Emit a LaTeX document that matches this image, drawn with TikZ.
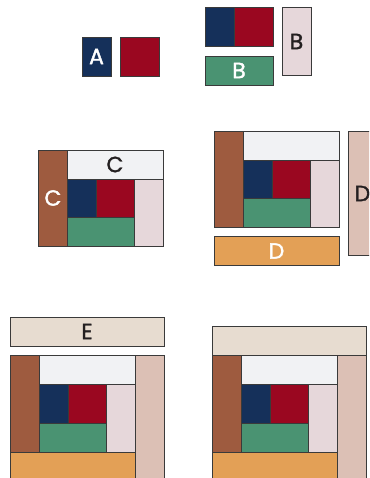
\documentclass[tikz,border=0pt]{standalone}
\usepackage{fontspec}
\newfontfamily\blockfont[FakeBold=1.6]{Poppins}

\begin{document}
\begin{tikzpicture}[
    x=1pt, y=-1pt,
    piece/.style={
        draw=edgegray,
        line width=0.8pt
    },
    letter/.style={
        font=\blockfont\fontsize{22}{22}\selectfont,
        inner sep=0pt
    },
    lightletter/.style={
        letter,
        text=white
    },
    darkletter/.style={
        letter,
        text=inkblack
    }
]

% Define colors
\definecolor{edgegray}{RGB}{58,58,58}
\definecolor{inkblack}{RGB}{35,31,32}
\definecolor{navy}{RGB}{21,48,90}
\definecolor{wine}{RGB}{154,7,32}
\definecolor{jade}{RGB}{74,147,114}
\definecolor{blush}{RGB}{230,215,218}
\definecolor{frost}{RGB}{241,242,244}
\definecolor{rust}{RGB}{158,91,63}
\definecolor{apricot}{RGB}{227,160,86}
\definecolor{clay}{RGB}{220,192,181}
\definecolor{linen}{RGB}{231,220,208}

% Page frame (pieces running off the edge are cut)
\useasboundingbox (0,0) rectangle (369,478);
\clip (0,0) rectangle (369,478);

% ============ STEP A ============
\filldraw[piece, fill=navy] (82,37) rectangle (111,76);
\filldraw[piece, fill=wine] (120,37) rectangle (159,76);
\node[lightletter] (labelA) at (96.5,56.5) {A};

% ============ STEP B ============
\filldraw[piece, fill=navy] (205,7.5) rectangle (234,46.5);
\filldraw[piece, fill=wine] (234,7.5) rectangle (273,46.5);
\filldraw[piece, fill=jade] (205,56) rectangle (273,85);
\filldraw[piece, fill=blush] (282,7.5) rectangle (311,75.5);
\node[lightletter] (labelB) at (239,70.5) {B};
\node[darkletter] (labelBside) at (296.5,41.5) {B};

% ============ LOG CABIN CENTRES ============
% origin = top left corner of the rust strip
\foreach \ox/\oy in {38.5/150, 214/131, 10/355.5, 212.5/355.5} {
    \filldraw[piece, fill=rust] (\ox,\oy) rectangle +(29,96.5);
    \filldraw[piece, fill=frost] (\ox+29,\oy) rectangle +(96,29);
    \filldraw[piece, fill=navy] (\ox+29,\oy+29) rectangle +(29,38.5);
    \filldraw[piece, fill=wine] (\ox+58,\oy+29) rectangle +(38,38.5);
    \filldraw[piece, fill=jade] (\ox+29,\oy+67.5) rectangle +(67,29);
    \filldraw[piece, fill=blush] (\ox+96,\oy+29) rectangle +(29,67.5);
}

% ============ STEP C ============
\node[darkletter] (labelC) at (115,164.5) {C};
\node[lightletter] (labelCside) at (53,198) {C};

% ============ STEP D ============
\filldraw[piece, fill=apricot] (214,236.5) rectangle (339,265.5);
\filldraw[piece, fill=clay] (348,131) rectangle (377,255.5);
\node[lightletter] (labelD) at (276.5,251) {D};
\node[darkletter] (labelDside) at (362.5,193.5) {D};

% ============ STEP E ============
\filldraw[piece, fill=linen] (10,317) rectangle (164,346);
\node[darkletter] (labelE) at (87,331.5) {E};
\filldraw[piece, fill=apricot] (10,452) rectangle (135,481);
\filldraw[piece, fill=clay] (135,355.5) rectangle (164,481);

% ============ FINISHED BLOCK ============
\filldraw[piece, fill=linen] (212.5,326.5) rectangle (366.5,355.5);
\filldraw[piece, fill=apricot] (212.5,452) rectangle (337.5,481);
\filldraw[piece, fill=clay] (337.5,355.5) rectangle (366.5,481);

\end{tikzpicture}
\end{document}
